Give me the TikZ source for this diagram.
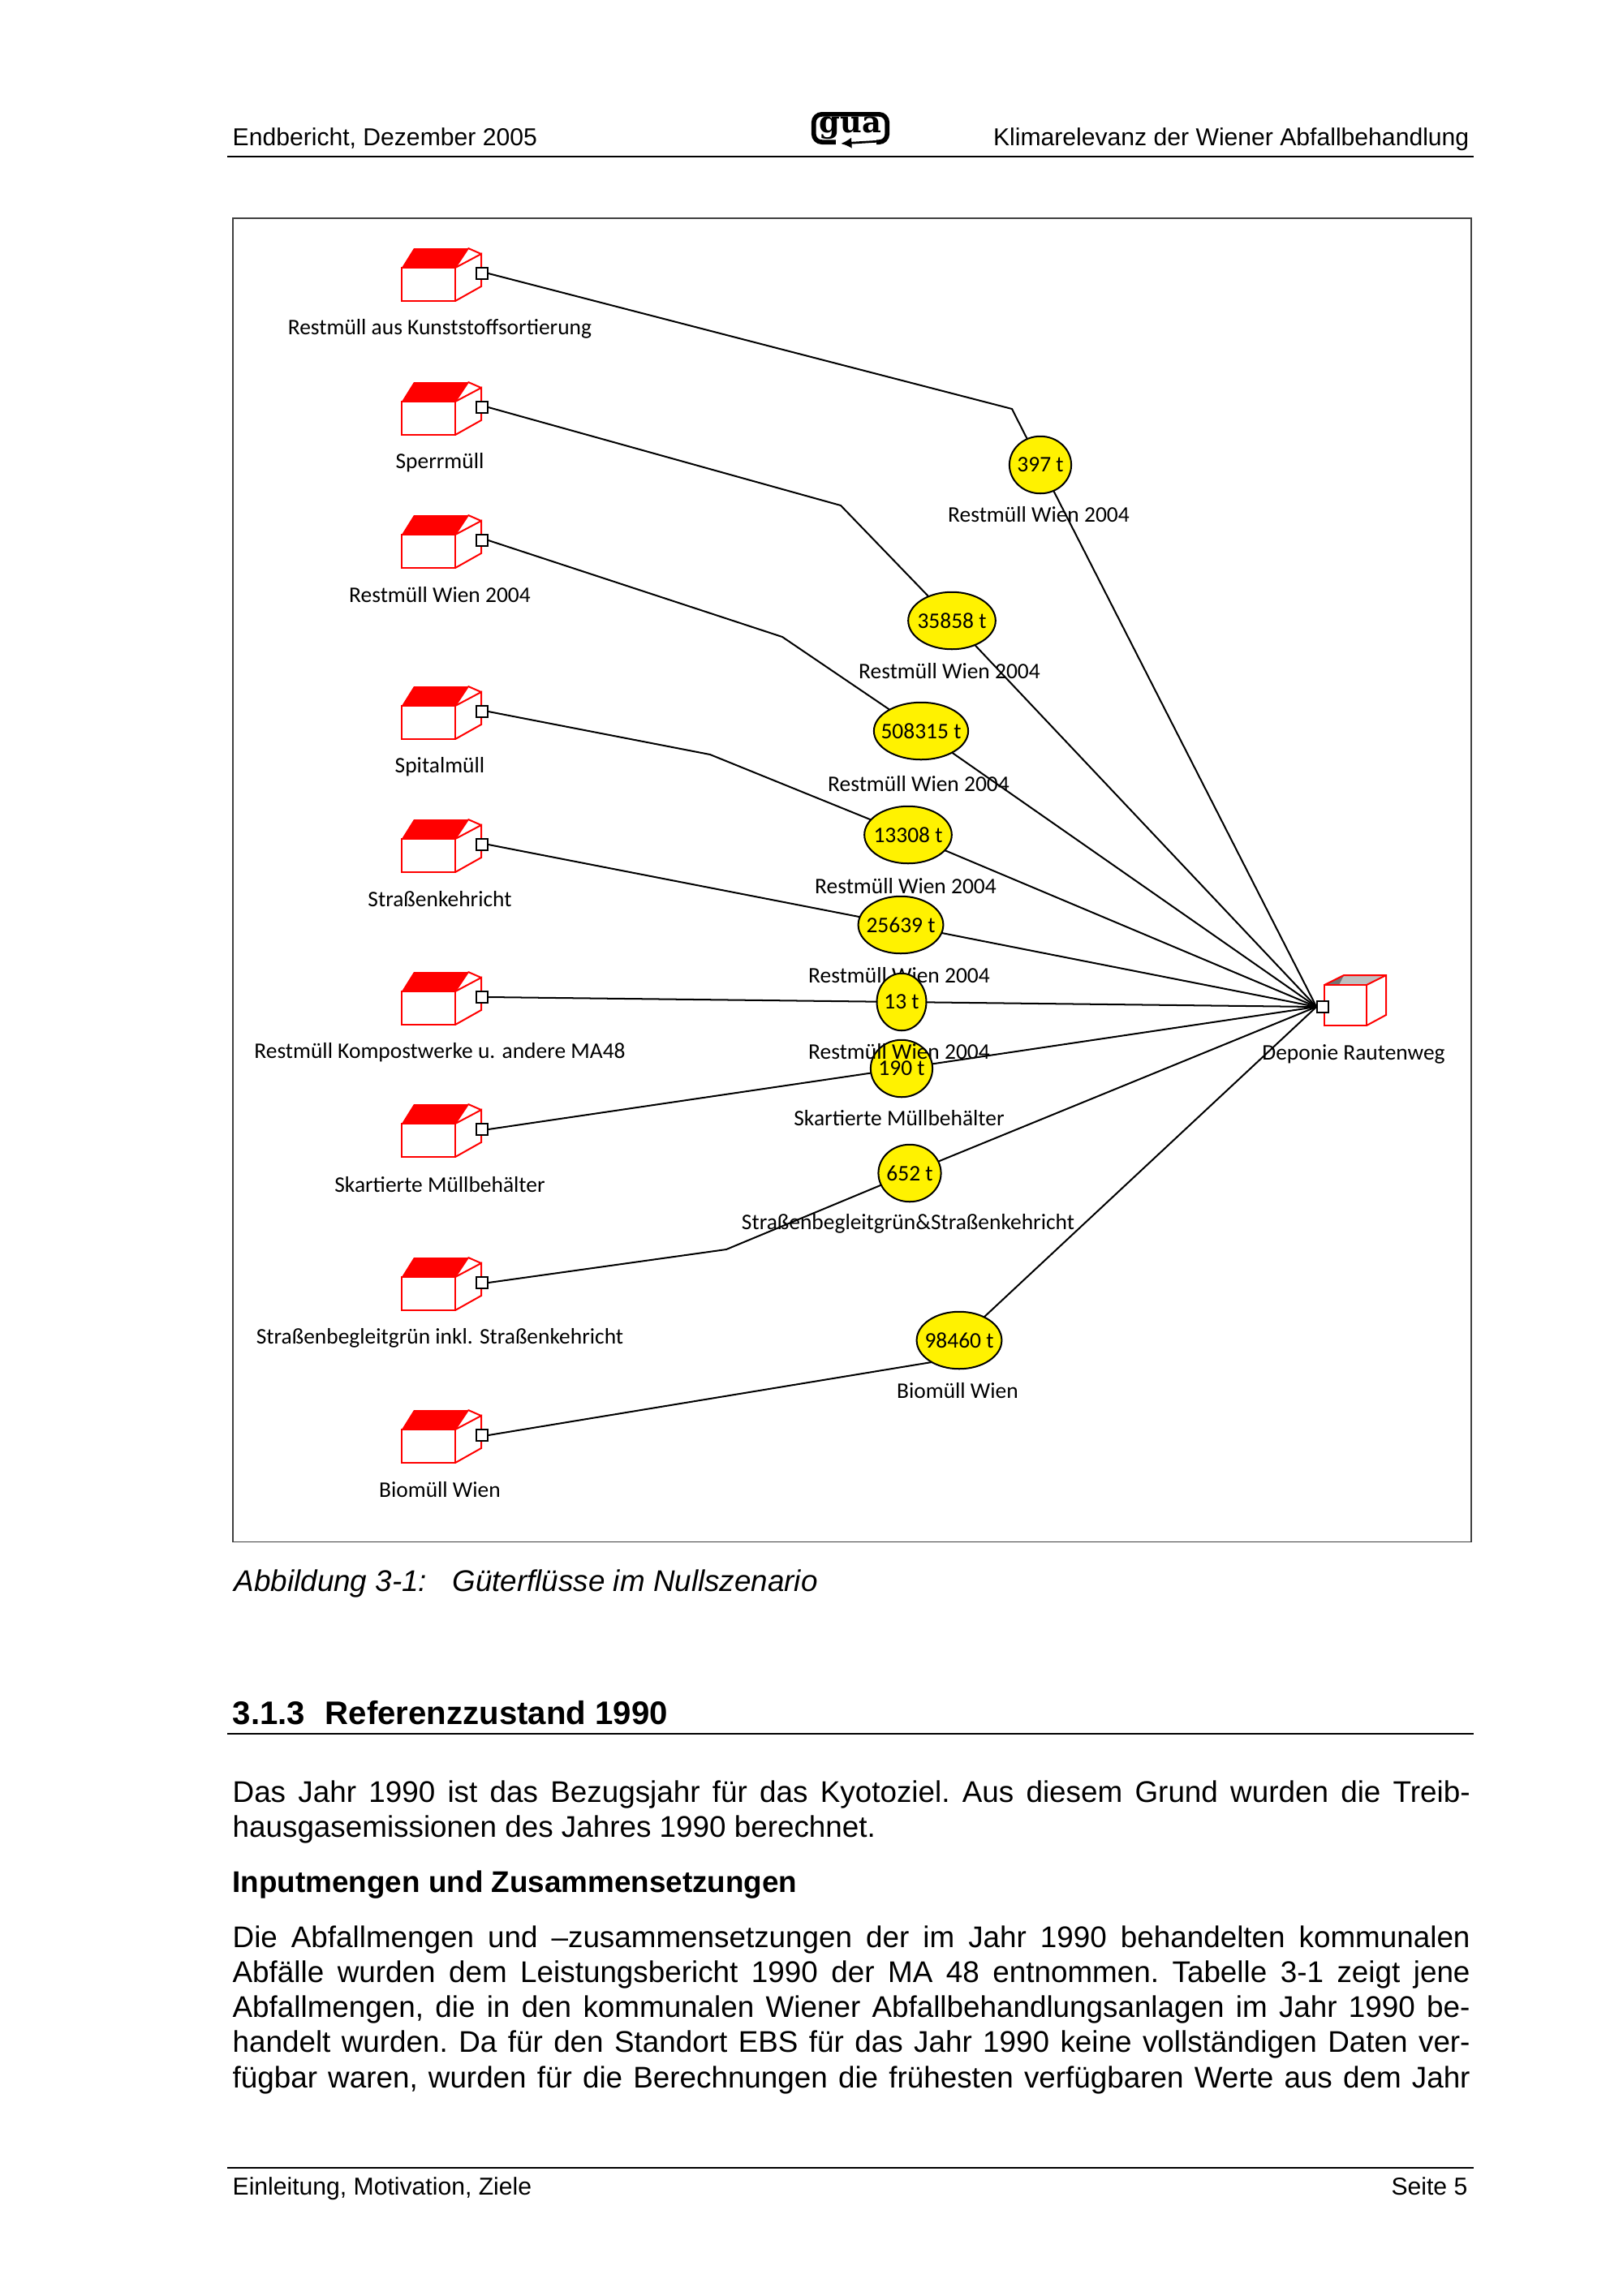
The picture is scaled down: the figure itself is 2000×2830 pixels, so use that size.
\documentclass[tikz,border=0pt]{standalone}
\usepackage{fontspec}
\setmainfont{Liberation Sans}
\newfontfamily\chartfont{Carlito}
\newfontfamily\logofont{DejaVu Serif}
\usetikzlibrary{shapes.geometric,backgrounds,arrows.meta}

\newcommand{\tons}[1]{\makebox[0pt]{#1 t}}

\tikzset{
    port/.style={draw=black, fill=white, line width=0.5pt, minimum size=0.145cm, inner sep=0pt},
    flow/.style={black, line width=0.6pt},
    stock/.style={ellipse, draw=black, fill=yellow, line width=0.6pt, inner sep=0pt, minimum height=0.74cm, font=\chartfont\fontsize{8.2}{9}\selectfont},
    tag/.style={font=\chartfont\fontsize{8.2}{9}\selectfont, inner sep=0pt},
    page/.style={anchor=base west, inner sep=0pt, font=\fontsize{9}{11}\selectfont},
    bodytext/.style={anchor=north west, inner sep=0pt, text width=16.01cm, align=justify, font=\fontsize{11}{12.9}\selectfont\frenchspacing},
    rulerline/.style={black, line width=0.6pt},
    house/.pic={
        \fill[red] (-99,-7) -- (-84,-31) -- (-17,-31) -- (-33,-7) -- cycle;
        \draw[red, line width=0.6pt] (-99,-7) rectangle (-33,34);
        \draw[red, line width=0.6pt] (-33,-7) -- (-1,-24) -- (-1,16) -- (-33,34);
        \draw[red, line width=0.6pt] (-17,-31) -- (-1,-24);
        \draw[red, line width=0.6pt] (-17,-31) -- (-33,-7);
    },
}

\begin{document}
\begin{tikzpicture}[x=0.0105cm, y=-0.0105cm]
    \useasboundingbox (0,0) rectangle (2000,2830);

    % Header
    \node[page] (headleft) at (286,179) {Endbericht, Dezember 2005};
    \node[page, anchor=base east] (headright) at (1811,179) {Klimarelevanz der Wiener Abfallbehandlung};
    \draw[rulerline] (280,193) -- (1816,193);

    % Logo
    \node[draw=black, line width=1.7pt, rounded corners=3pt, inner sep=0pt, minimum width=0.95cm, minimum height=0.36cm, font=\logofont\bfseries\fontsize{11}{11}\selectfont] (logo) at (1048,158) {\raisebox{0.5pt}{gua}};
    \fill[white] (1030,170) rectangle (1080,184);
    \draw[-{Latex[length=4pt,width=4pt]}, line width=0.8pt] (1085,174) -- (1036,177);

    % Frame
    \node[draw=black!75, line width=0.5pt, minimum width=16.02cm, minimum height=17.13cm, inner sep=0pt, anchor=north west] (frame) at (286,268) {};

    % Sources
    \pic at (594,337) {house};
    \pic at (594,502) {house};
    \pic at (594,666) {house};
    \pic at (594,877) {house};
    \pic at (594,1041) {house};
    \pic at (594,1229) {house};
    \pic at (594,1392) {house};
    \pic at (594,1581) {house};
    \pic at (594,1769) {house};
    \node[port] (s1) at (594,337) {};
    \node[port] (s2) at (594,502) {};
    \node[port] (s3) at (594,666) {};
    \node[port] (s4) at (594,877) {};
    \node[port] (s5) at (594,1041) {};
    \node[port] (s6) at (594,1229) {};
    \node[port] (s7) at (594,1392) {};
    \node[port] (s8) at (594,1581) {};
    \node[port] (s9) at (594,1769) {};
    \node[tag] (sl1) at (542,405) {Restmüll aus Kunststoffsortierung};
    \node[tag] (sl2) at (542,570) {Sperrmüll};
    \node[tag] (sl3) at (542,733) {Restmüll Wien 2004};
    \node[tag] (sl4) at (542,945) {Spitalmüll};
    \node[tag] (sl5) at (542,1108) {Straßenkehricht};
    \node[tag] (sl6) at (542,1297) {Restmüll Kompostwerke u. andere MA48};
    \node[tag] (sl7) at (542,1460) {Skartierte Müllbehälter};
    \node[tag] (sl8) at (542,1649) {Straßenbegleitgrün inkl. Straßenkehricht};
    \node[tag] (sl9) at (542,1836) {Biomüll Wien};

    % Sink
    \fill[black!25] (1632,1214) -- (1684,1214) -- (1708,1202) -- (1656,1202) -- cycle;
    \fill[black!55] (1632,1214) -- (1650,1214) -- (1656,1202) -- cycle;
    \draw[red, line width=0.6pt] (1632,1214) rectangle (1684,1264);
    \draw[red, line width=0.6pt] (1632,1214) -- (1656,1202) -- (1708,1202) -- (1708,1251) -- (1684,1264);
    \draw[red, line width=0.6pt] (1684,1214) -- (1708,1202);
    \node[port] (sink) at (1630,1241) {};
    \node[tag] (sinklabel) at (1668,1299) {Deponie Rautenweg};

    % Stocks and their labels
    \node[stock, minimum width=0.8cm] (e1) at (1282,573) {\tons{397}};
    \node[tag] (l1) at (1280,634) {Restmüll Wien 2004};
    \node[stock, minimum width=1.13cm] (e2) at (1173,765) {\tons{35858}};
    \node[tag] (l2) at (1170,827) {Restmüll Wien 2004};
    \node[stock, minimum width=1.22cm] (e3) at (1135,901) {\tons{508315}};
    \node[tag] (l3) at (1132,966) {Restmüll Wien 2004};
    \node[stock, minimum width=1.13cm] (e4) at (1119,1029) {\tons{13308}};
    \node[tag] (l4) at (1116,1092) {Restmüll Wien 2004};
    \node[stock, minimum width=1.1cm] (e5) at (1110,1140) {\tons{25639}};
    \node[tag] (l5) at (1108,1202) {Restmüll Wien 2004};
    \node[stock, minimum width=0.64cm] (e6) at (1111,1235) {\tons{13}};
    \node[stock, minimum width=0.8cm] (e7) at (1111,1317) {\tons{190}};
    \node[tag] (l6) at (1108,1296) {Restmüll Wien 2004};
    \node[tag] (l7) at (1108,1378) {Skartierte Müllbehälter};
    \node[stock, minimum width=0.81cm] (e8) at (1121,1446) {\tons{652}};
    \node[tag] (l8) at (1119,1508) {Straßenbegleitgrün\&Straßenkehricht};
    \node[stock, minimum width=1.1cm] (e9) at (1182,1652) {\tons{98460}};
    \node[tag] (l9) at (1180,1714) {Biomüll Wien};

    % Bends
    \coordinate (b1) at (1247,504);
    \coordinate (b2) at (1036,623);
    \coordinate (b3) at (964,785);
    \coordinate (b4) at (875,930);
    \coordinate (b8) at (895,1540);
    \coordinate (b9) at (1160,1677);

    % Flows
    \begin{scope}[on background layer]
        \draw[flow] (s1.east) -- (b1) -- (e1.center) -- (sink.west);
        \draw[flow] (s2.east) -- (b2) -- (e2.center) -- (sink.west);
        \draw[flow] (s3.east) -- (b3) -- (e3.center) -- (sink.west);
        \draw[flow] (s4.east) -- (b4) -- (e4.center) -- (sink.west);
        \draw[flow] (s5.east) -- (e5.center) -- (sink.west);
        \draw[flow] (s6.east) -- (e6.center) -- (sink.west);
        \draw[flow] (s7.east) -- (e7.center) -- (sink.west);
        \draw[flow] (s8.east) -- (b8) -- (e8.center) -- (sink.west);
        \draw[flow] (s9.east) -- (b9) -- (e9.center) -- (sink.west);
    \end{scope}

    % Caption
    \node[page, font=\fontsize{11}{13}\selectfont\itshape] (caption) at (288,1961) {Abbildung 3-1:\hspace{0.85em}Güterflüsse im Nullszenario};

    % Section
    \node[page, font=\fontsize{12}{14}\selectfont\bfseries] (section) at (286,2125) {3.1.3\hspace{0.62em}Referenzzustand 1990};
    \draw[rulerline] (280,2137) -- (1816,2137);

    % Body
    \node[bodytext] (para1) at (286,2194) {Das Jahr 1990 ist das Bezugsjahr für das Kyotoziel. Aus diesem Grund wurden die Treib-\linebreak hausgasemissionen des Jahres 1990 berechnet.};
    \node[page, font=\fontsize{11}{13}\selectfont\bfseries] (subhead) at (286,2332) {Inputmengen und Zusammensetzungen};
    \node[bodytext] (para2) at (286,2373) {Die Abfallmengen und –zusammensetzungen der im Jahr 1990 behandelten kommunalen\linebreak Abfälle wurden dem Leistungsbericht 1990 der MA 48 entnommen. Tabelle 3-1 zeigt jene\linebreak Abfallmengen, die in den kommunalen Wiener Abfallbehandlungsanlagen im Jahr 1990 be-\linebreak handelt wurden. Da für den Standort EBS für das Jahr 1990 keine vollständigen Daten ver-\linebreak fügbar waren, wurden für die Berechnungen die frühesten verfügbaren Werte aus dem Jahr\linebreak};

    % Footer
    \draw[rulerline] (280,2672) -- (1816,2672);
    \node[page] (footleft) at (286,2705) {Einleitung, Motivation, Ziele};
    \node[page, anchor=base east] (footright) at (1809,2705) {Seite 5};
\end{tikzpicture}
\end{document}
